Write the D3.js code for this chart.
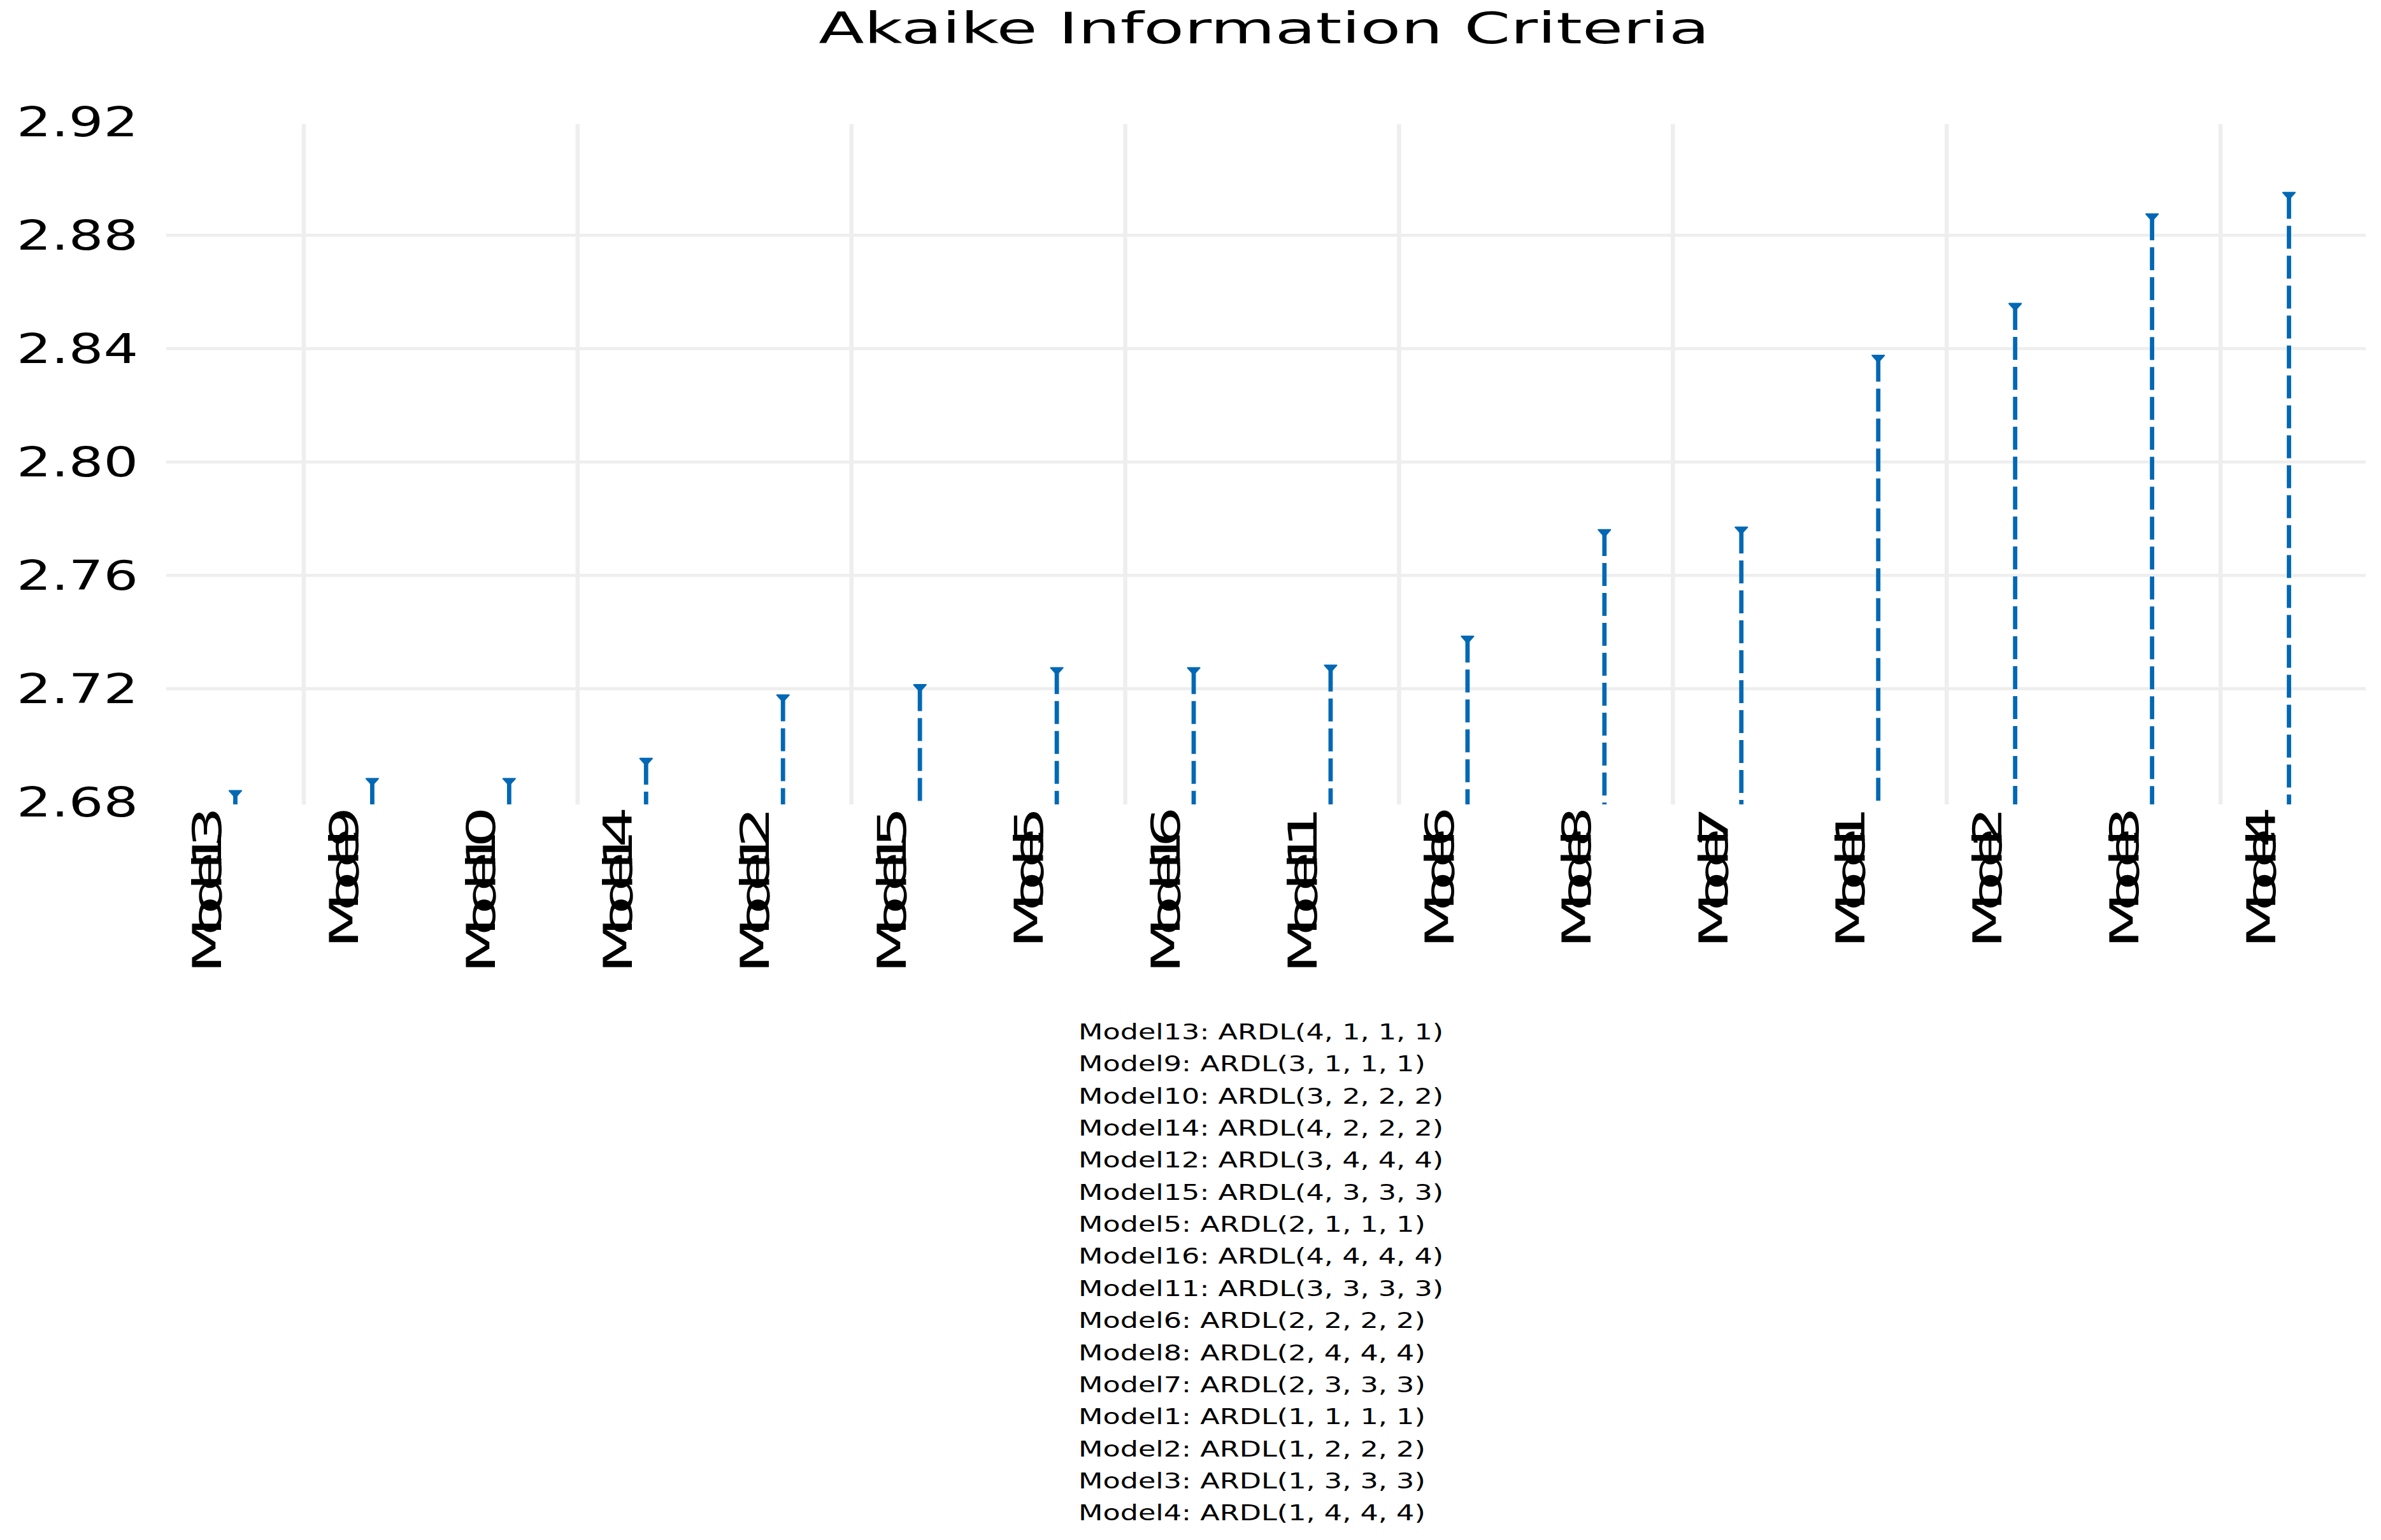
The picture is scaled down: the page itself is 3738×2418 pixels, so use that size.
<!DOCTYPE html>
<html><head><meta charset="utf-8">
<script src="https://cdn.jsdelivr.net/npm/d3@7"></script>
<style>body{margin:0;background:#fff} svg{display:block}</style>
</head><body>
<svg id="chart" width="3738" height="2418"></svg>
<script>
// ---- data ----
const models = ["Model13","Model9","Model10","Model14","Model12","Model15","Model5","Model16",
                "Model11","Model6","Model8","Model7","Model1","Model2","Model3","Model4"];
const aicValues = [2.6828, 2.6871, 2.6871, 2.6942, 2.7166, 2.7202, 2.7262, 2.7262,
                   2.7271, 2.7373, 2.7749, 2.7758, 2.8364, 2.8547, 2.8863, 2.8939];
const specs = ["ARDL(4, 1, 1, 1)","ARDL(3, 1, 1, 1)","ARDL(3, 2, 2, 2)","ARDL(4, 2, 2, 2)",
               "ARDL(3, 4, 4, 4)","ARDL(4, 3, 3, 3)","ARDL(2, 1, 1, 1)","ARDL(4, 4, 4, 4)",
               "ARDL(3, 3, 3, 3)","ARDL(2, 2, 2, 2)","ARDL(2, 4, 4, 4)","ARDL(2, 3, 3, 3)",
               "ARDL(1, 1, 1, 1)","ARDL(1, 2, 2, 2)","ARDL(1, 3, 3, 3)","ARDL(1, 4, 4, 4)"];
const yTicks = [2.68, 2.72, 2.76, 2.80, 2.84, 2.88, 2.92];
const yTickLabels = ["2.68","2.72","2.76","2.80","2.84","2.88","2.92"];
const gridTicks = [2.72, 2.76, 2.80, 2.84, 2.88];
const titleText = "Akaike Information Criteria";

// ---- layout ----
const plot = {left: 262, right: 3701, top: 195, bottom: 1263, gridRight: 3714, gridLeft: 261};
const color = "#0068b4";
const font = "'DejaVu Sans', Verdana, sans-serif";

const svg = d3.select("#chart");

const x = d3.scaleBand().domain(models).range([plot.left, plot.right]).padding(0);
const xc = m => x(m) + x.bandwidth() / 2;
const y = d3.scaleLinear().domain([2.68, 2.92]).range([1259.3, 191.3]);

// horizontal gridlines
svg.append("g").selectAll("line").data(gridTicks).join("line")
  .attr("x1", plot.gridLeft).attr("x2", plot.gridRight)
  .attr("y1", d => y(d)).attr("y2", d => y(d))
  .attr("stroke", "#eeeeee").attr("stroke-width", 4.7);

// vertical gridlines every other category boundary
const vIdx = d3.range(1, models.length, 2);
svg.append("g").selectAll("line").data(vIdx).join("line")
  .attr("x1", i => x(models[i])).attr("x2", i => x(models[i]))
  .attr("y1", plot.top).attr("y2", plot.bottom)
  .attr("stroke", "#eeeeee").attr("stroke-width", 6.5);

// y axis labels
const yAxis = svg.append("g");
yAxis.selectAll("text").data(yTicks).join("text")
  .attr("x", 26).attr("y", d => y(d)).attr("dy", "0.35em")
  .attr("font-family", font).attr("font-size", 64).attr("fill", "#000")
  .text((d, i) => yTickLabels[i])
  .each(function() {
    const L = this.getComputedTextLength();
    d3.select(this).attr("textLength", L * 1.34).attr("lengthAdjust", "spacingAndGlyphs");
  });

// stems
const data = models.map((m, i) => ({m, v: aicValues[i]}));
svg.append("g").selectAll("line").data(data).join("line")
  .attr("x1", d => xc(d.m)).attr("x2", d => xc(d.m))
  .attr("y1", d => y(d.v)).attr("y2", plot.bottom)
  .attr("stroke", color).attr("stroke-width", 6.8)
  .attr("stroke-dasharray", "36,11");

// markers (flat downward triangles)
svg.append("g").selectAll("path").data(data).join("path")
  .attr("transform", d => `translate(${xc(d.m)},${y(d.v)})`)
  .attr("d", "M-9.5,-5.2L9.5,-5.2L0,5.4Z")
  .attr("fill", color).attr("stroke", color).attr("stroke-width", 2.2)
  .attr("stroke-linejoin", "round");

// x labels (rotated, glyphs stretched with tight advances)
const sx = 1.65;
const xl = svg.append("g");
xl.selectAll("text").data(models).join("text")
  .attr("font-family", font).attr("font-size", 62).attr("fill", "#000")
  .text(d => d)
  .each(function(d) {
    const L = this.getComputedTextLength() * 0.99;
    const local = L / sx;
    d3.select(this)
      .attr("textLength", local).attr("lengthAdjust", "spacing")
      .attr("transform", `translate(${xc(d) - 22},${1266 + L}) rotate(-90) scale(${sx},1)`);
  });

// title
svg.append("text")
  .attr("font-family", font).attr("font-size", 67).attr("fill", "#000")
  .attr("y", 67.7)
  .text(titleText)
  .each(function() {
    const L = this.getComputedTextLength() * 1.556;
    d3.select(this).attr("textLength", L).attr("lengthAdjust", "spacingAndGlyphs")
      .attr("x", (plot.left + plot.right) / 2 - L / 2 + 3);
  });

// legend of model specifications
const lg = svg.append("g");
lg.selectAll("text").data(models).join("text")
  .attr("x", 1693).attr("y", (d, i) => 1632 + i * 50.35)
  .attr("font-family", font).attr("font-size", 34).attr("fill", "#000")
  .text((d, i) => `${d}: ${specs[i]}`)
  .each(function() {
    const L = this.getComputedTextLength();
    d3.select(this).attr("textLength", L * 1.31).attr("lengthAdjust", "spacingAndGlyphs");
  });
</script>
</body></html>
